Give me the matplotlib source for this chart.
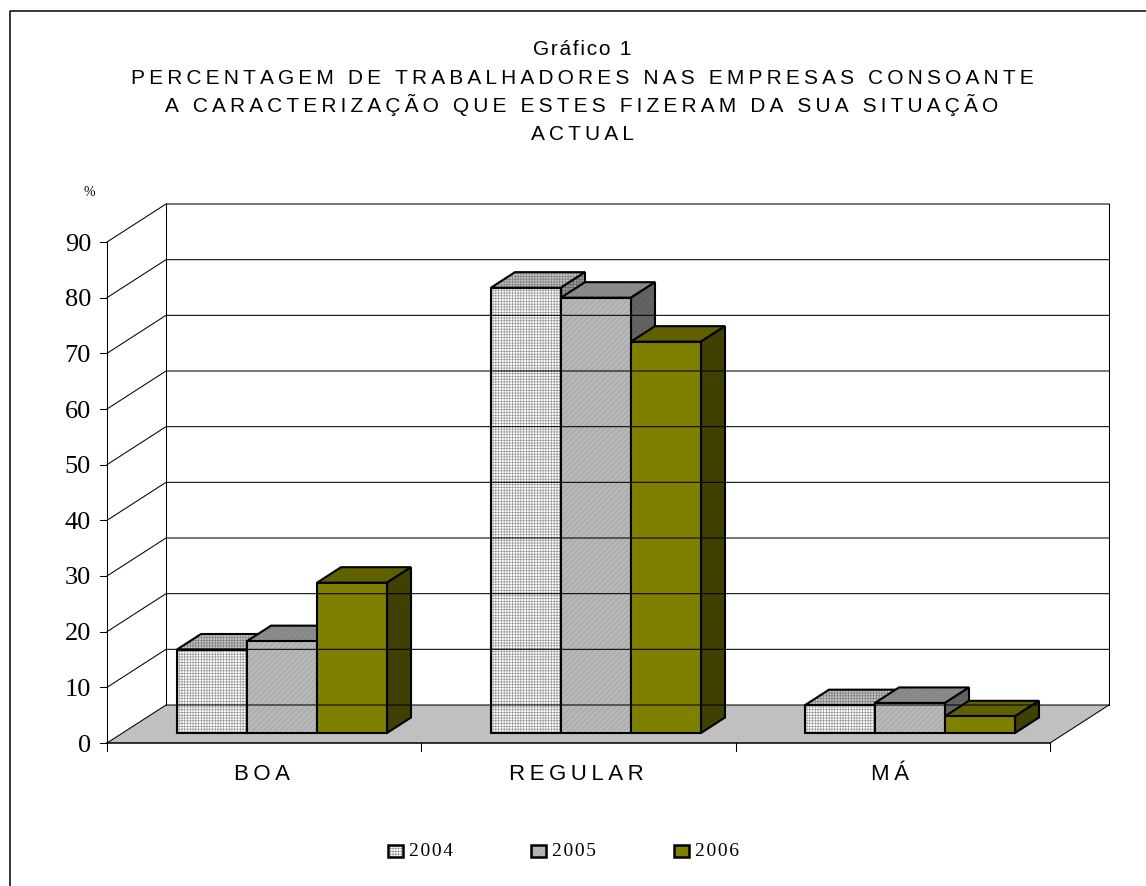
import matplotlib
matplotlib.use('Agg')
import matplotlib.pyplot as plt
from matplotlib.patches import Polygon

categories = ['BOA', 'REGULAR', 'MÁ']
years = ['2004', '2005', '2006']
val_2004 = [15, 80, 5]
val_2005 = [16.5, 78.2, 5.4]
val_2006 = [27, 70.3, 3]
y_ticks = [0, 10, 20, 30, 40, 50, 60, 70, 80, 90]
title_lines = ['Gráfico 1',
               'PERCENTAGEM DE TRABALHADORES NAS EMPRESAS CONSOANTE',
               'A CARACTERIZAÇÃO QUE ESTES FIZERAM DA SUA SITUAÇÃO',
               'ACTUAL']

W, H = 1146, 886
SANS = 'Liberation Sans'
SERIF = 'Liberation Serif'
THIN = '\u2009'
HAIR = '\u200a'

X0, X1 = 107, 1050      # front edge of the floor
Y0, Y90 = 743, 242      # front left axis
DX, DY = 59, -38        # depth of the walls
PX_PER_UNIT = (Y0 - Y90) / 90
BASE_Y = 733
BAR_W = 70
BAR_DX, BAR_DY = 24, -15.5
BAR_START = [177, 491, 805]
GRID_LW = 0.75

# front, top, side as (colour, hatch, hatch colour)
STYLES = [
    (('white', '++++++', '#9a9a9a'), ('#c4c4c4', '++++++', '#808080'), ('#a0a0a0', '++++++', '#606060')),
    (('#b8b8b8', '//////', '#a0a0a0'), ('#8c8c8c', '//////', '#808080'), ('#646464', '//////', '#585858')),
    (('#808000', None, None), ('#606000', None, None), ('#404000', None, None)),
]


def spaced(s, sep=THIN):
    return sep.join(s)


def face(ax, pts, style, lw=1.5):
    color, hatch, hatch_color = style
    if hatch:
        ax.add_patch(Polygon(pts, closed=True, facecolor=color, edgecolor=hatch_color,
                             hatch=hatch, linewidth=0))
        ax.add_patch(Polygon(pts, closed=True, fill=False, edgecolor='black', linewidth=lw,
                             joinstyle='miter'))
    else:
        ax.add_patch(Polygon(pts, closed=True, facecolor=color, edgecolor='black', linewidth=lw,
                             joinstyle='miter'))


def bar3d(ax, x, value, style):
    top = BASE_Y - value * PX_PER_UNIT
    front, upper, side = style
    r = x + BAR_W
    face(ax, [(x, top), (r, top), (r + BAR_DX, top + BAR_DY), (x + BAR_DX, top + BAR_DY)], upper)
    face(ax, [(r, top), (r + BAR_DX, top + BAR_DY), (r + BAR_DX, BASE_Y + BAR_DY), (r, BASE_Y)], side)
    face(ax, [(x, top), (r, top), (r, BASE_Y), (x, BASE_Y)], front)


plt.rcParams['hatch.linewidth'] = 0.5
fig = plt.figure(figsize=(W / 100, H / 100), dpi=100, facecolor='white')
ax = fig.add_axes([0, 0, 1, 1])
ax.set_xlim(0, W)
ax.set_ylim(H, 0)
ax.axis('off')

# only the left and top of the outer frame are in the picture
ax.plot([9.5, 9.5, W], [H, 11, 11], color='black', lw=1.1)

# floor
ax.add_patch(Polygon([(X0, Y0), (X0 + DX, Y0 + DY), (X1 + DX, Y0 + DY), (X1, Y0)],
                     closed=True, facecolor='#c0c0c0', edgecolor='none'))

# walls and grid
for t in y_ticks:
    y = Y0 - t * PX_PER_UNIT
    ax.plot([X0, X0 + DX, X1 + DX], [y, y + DY, y + DY], color='black', lw=GRID_LW)
    ax.plot([X0 - 7, X0], [y, y], color='black', lw=GRID_LW)
    ax.text(91, y, str(t), family=SERIF, fontsize=19, ha='right', va='center_baseline')
ax.plot([X0, X0], [Y0, Y90], color='black', lw=GRID_LW)
ax.plot([X0 + DX, X0 + DX], [Y0 + DY, Y90 + DY], color='black', lw=GRID_LW)
ax.plot([X1 + DX, X1 + DX], [Y0 + DY, Y90 + DY], color='black', lw=GRID_LW)
ax.plot([X1, X1 + DX], [Y0, Y0 + DY], color='black', lw=GRID_LW)
ax.plot([X0, X1], [Y0, Y0], color='black', lw=1.1)

# category ticks
step = (X1 - X0) / len(categories)
for i in range(len(categories) + 1):
    ax.plot([X0 + i * step] * 2, [Y0, Y0 + 8], color='black', lw=GRID_LW)

# bars
for i, start in enumerate(BAR_START):
    for j, vals in enumerate([val_2004, val_2005, val_2006]):
        bar3d(ax, start + j * BAR_W, vals[i], STYLES[j])

# category labels
for i, c in enumerate(categories):
    ax.text(X0 + (i + 0.5) * step - 2.5, 780, spaced(c), family=SANS, fontsize=16,
            ha='center', va='baseline')

# title
for line, y, sep in zip(title_lines, [55, 84, 112, 140], [HAIR, THIN, THIN, THIN]):
    ax.text(582, y, spaced(line, sep), family=SANS, fontsize=15, ha='center', va='baseline')

ax.text(89, 192, '%', family=SERIF, fontsize=10, ha='center', va='center')

# legend
for x, year, style in zip([388, 531, 674], years, STYLES):
    pts = [(x, 844.5), (x + 15, 844.5), (x + 15, 857), (x, 857)]
    face(ax, pts, style[0], lw=1.8)
    ax.text(x + 21, 851, spaced(year, HAIR), family=SERIF, fontsize=14, ha='left', va='center')

fig.savefig('out.png', dpi=100)
